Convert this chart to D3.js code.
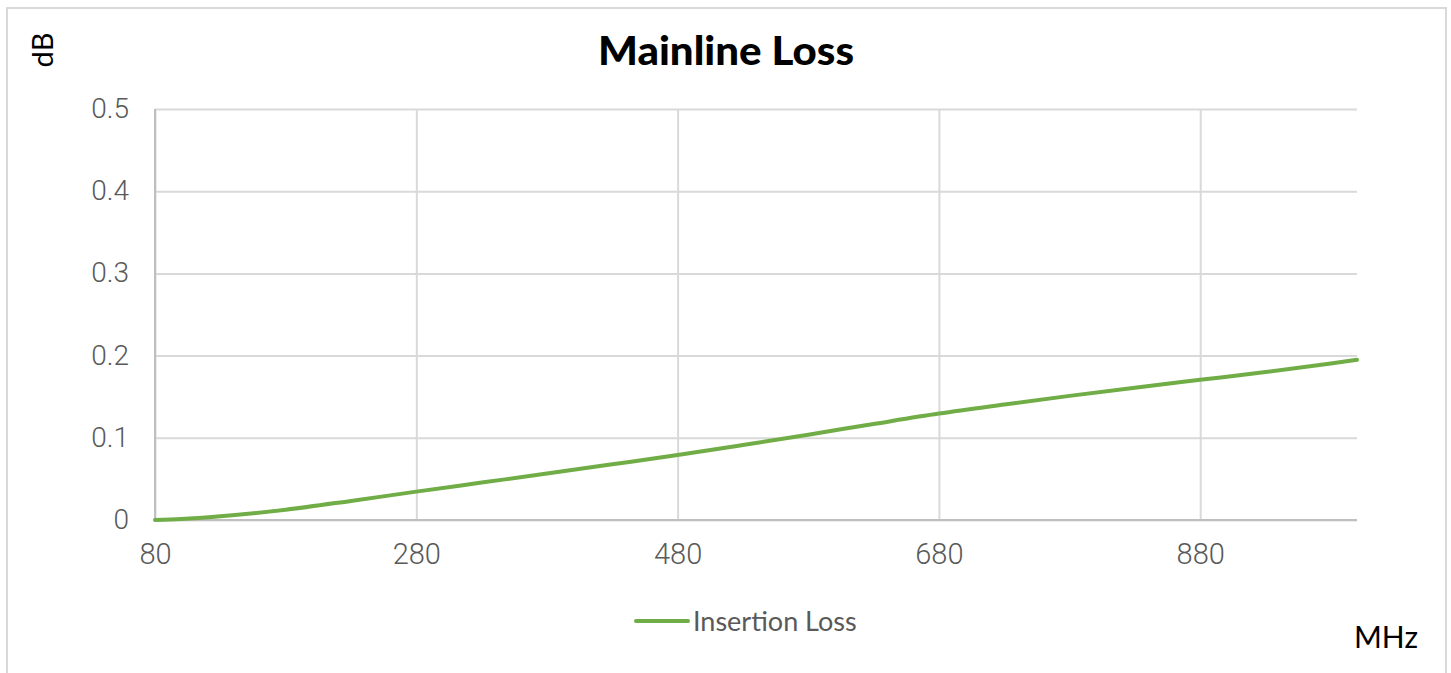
<!DOCTYPE html>
<html>
<head>
<meta charset="utf-8">
<script src="https://cdn.jsdelivr.net/npm/d3@7"></script>
<style>
  body { margin: 0; background: #fff; }
  svg { display: block; }
</style>
</head>
<body>
<div id="chart"></div>
<script>
// data
var freqs = [80, 100, 130, 180, 230, 280, 330, 380, 430, 480, 530, 580, 630, 680, 730, 780, 830, 880, 930, 980, 1000]
var insertionLoss = [0, 0.0012, 0.0045, 0.0125, 0.0232, 0.0345, 0.0455, 0.0565, 0.0677, 0.079, 0.0912, 0.1038, 0.1168, 0.1295, 0.1405, 0.151, 0.161, 0.1705, 0.18, 0.1905, 0.195]
var xTicks = [80, 280, 480, 680, 880]
var yTicks = [0, 0.1, 0.2, 0.3, 0.4, 0.5]

var W = 1451, H = 673
var margin = { left: 155, right: 94, top: 109, bottom: 153 }
var width = W - margin.left - margin.right
var height = H - margin.top - margin.bottom

var svg = d3.select("#chart").append("svg").attr("width", W).attr("height", H)

// outer frame
svg.append("rect")
  .attr("x", 7).attr("y", 8).attr("width", 1439).attr("height", 700)
  .attr("fill", "none").attr("stroke", "#d9d9d9").attr("stroke-width", 2)

var xs = d3.scaleLinear().domain([80, 1000]).range([0, width])
var ys = d3.scaleLinear().domain([0, 0.5]).range([height, 0])

var g = svg.append("g").attr("transform", "translate(" + margin.left + "," + margin.top + ")")

// gridlines
g.append("g")
  .call(d3.axisLeft(ys).tickValues(yTicks).tickSize(-width).tickFormat(""))
  .call(a => a.select(".domain").remove())
  .selectAll("line").attr("stroke", "#d9d9d9").attr("stroke-width", 2)

g.append("g")
  .attr("transform", "translate(0," + height + ")")
  .call(d3.axisBottom(xs).tickValues(xTicks).tickSize(-height).tickFormat(""))
  .call(a => a.select(".domain").remove())
  .selectAll("line").attr("stroke", "#d9d9d9").attr("stroke-width", 2)

// axis lines
g.append("line").attr("x1", 0).attr("x2", 0).attr("y1", 0).attr("y2", height)
  .attr("stroke", "#bfbfbf").attr("stroke-width", 2)
g.append("line").attr("x1", 0).attr("x2", width).attr("y1", height).attr("y2", height)
  .attr("stroke", "#bfbfbf").attr("stroke-width", 2)

// tick labels
var yAxis = g.append("g")
  .call(d3.axisLeft(ys).tickValues(yTicks).tickSize(0).tickPadding(26).tickFormat(d => d === 0 ? "0" : d3.format(".1f")(d)))
yAxis.select(".domain").remove()
yAxis.selectAll("text")
  .style("font-family", "Roboto, sans-serif")
  .style("font-weight", "300")
  .style("font-size", "28px")
  .attr("dy", "0.3em")
  .attr("fill", "#595959")

var xAxis = g.append("g")
  .attr("transform", "translate(0," + height + ")")
  .call(d3.axisBottom(xs).tickValues(xTicks).tickSize(0).tickPadding(23).tickFormat(d3.format("d")))
xAxis.select(".domain").remove()
xAxis.selectAll("text")
  .style("font-family", "Roboto, sans-serif")
  .style("font-weight", "300")
  .style("font-size", "29px")
  .attr("fill", "#595959")

// the series
var line = d3.line()
  .x((d, i) => xs(freqs[i]))
  .y(d => ys(d))
  .curve(d3.curveMonotoneX)

g.append("path")
  .datum(insertionLoss)
  .attr("d", line)
  .attr("fill", "none")
  .attr("stroke", "#70ad47")
  .attr("stroke-width", 4)
  .attr("stroke-linecap", "round")

// title and axis titles
svg.append("text")
  .attr("x", 726).attr("y", 65)
  .attr("text-anchor", "middle")
  .attr("textLength", 256)
  .attr("lengthAdjust", "spacingAndGlyphs")
  .style("font-family", "Lato, sans-serif")
  .style("font-weight", "900")
  .style("font-size", "40px")
  .attr("fill", "#000")
  .text("Mainline Loss")

svg.append("text")
  .attr("transform", "translate(53,50) rotate(-90)")
  .attr("text-anchor", "middle")
  .style("font-family", "Lato, sans-serif")
  .style("font-size", "29px")
  .attr("fill", "#000")
  .text("dB")

svg.append("text")
  .attr("x", 1386).attr("y", 648)
  .attr("text-anchor", "middle")
  .style("font-family", "Lato, sans-serif")
  .style("font-size", "30px")
  .attr("fill", "#000")
  .text("MHz")

// legend
var legend = svg.append("g").attr("transform", "translate(636,621)")
legend.append("line").attr("x1", 0).attr("x2", 52).attr("y1", 0).attr("y2", 0)
  .attr("stroke", "#70ad47").attr("stroke-width", 4).attr("stroke-linecap", "round")
legend.append("text")
  .attr("x", 57).attr("y", 10)
  .style("font-family", "Lato, sans-serif")
  .style("font-size", "27px")
  .attr("fill", "#595959")
  .text("Insertion Loss")
</script>
</body>
</html>
